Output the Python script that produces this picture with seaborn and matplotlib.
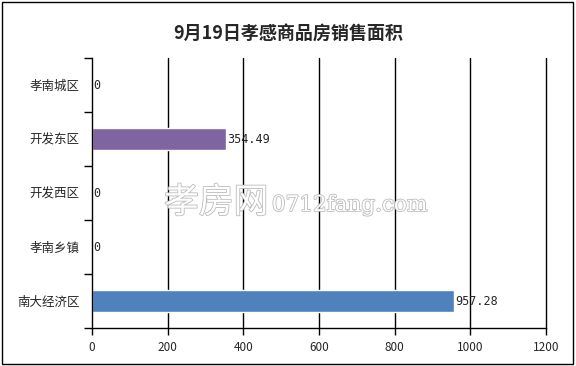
import pandas as pd
import matplotlib.pyplot as plt
import matplotlib.patheffects as pe
from matplotlib.patches import Rectangle
import seaborn as sns

# Data
districts = ['孝南城区', '开发东区', '开发西区', '孝南乡镇', '南大经济区']
areas = [0, 354.49, 0, 0, 957.28]
bar_colors = ['#4F81BD', '#8064A2', '#4F81BD', '#4F81BD', '#4F81BD']
x_ticks = [0, 200, 400, 600, 800, 1000, 1200]

df = pd.DataFrame({'district': districts, 'area': areas})

sns.set_style('white')
plt.rcParams['font.family'] = ['Noto Sans CJK SC', 'DejaVu Sans']

fig = plt.figure(figsize=(5.76, 3.66), dpi=100)
ax = fig.add_axes([0.1597, 0.1038, 0.7882, 0.7377])

sns.barplot(data=df, x='area', y='district', hue='district',
            palette=dict(zip(districts, bar_colors)), legend=False,
            width=0.39, saturation=1, ax=ax)

ax.set_xlim(0, 1200)
ax.set_ylim(len(districts) - 0.5, -0.5)
ax.set_xticks(x_ticks)
ax.set_xticklabels([str(t) for t in x_ticks], fontsize=8.5)
ax.set_xlabel('')
ax.set_ylabel('')

# category labels at centers, tick marks at boundaries
ax.set_yticks(range(len(districts)))
ax.set_yticklabels(districts, fontsize=9)
ax.set_yticks([i - 0.5 for i in range(len(districts) + 1)], minor=True)
ax.tick_params(axis='y', which='major', left=True, length=0, pad=9)
ax.tick_params(axis='y', which='minor', left=True, length=6, width=1,
               color='black', direction='out')
ax.tick_params(axis='x', which='major', bottom=True, length=5, width=1,
               color='black', direction='out', pad=4)

ax.grid(axis='x', color='black', linewidth=1)
for i, t in enumerate(ax.get_xgridlines()):
    t.set_clip_on(False)
    if i == 0:
        t.set_visible(False)
ax.set_axisbelow(True)
for s in ['top', 'right']:
    ax.spines[s].set_visible(False)
for s in ['left', 'bottom']:
    ax.spines[s].set_color('black')
    ax.spines[s].set_linewidth(1)

# value labels
for i, v in enumerate(areas):
    ax.text(v + 3, i, f'{v:g}' if v == 0 else f'{v:.2f}', va='center', ha='left',
            fontsize=8.5, family='DejaVu Sans Mono')

# watermark
fig.text(0.466, 0.445, '孝房网', fontsize=25, color='white', ha='right', va='center',
         family=['Noto Sans CJK SC'],
         path_effects=[pe.withStroke(linewidth=1.2, foreground='#bbbbbb')], zorder=5)
fig.text(0.472, 0.44, '0712fang.com', fontsize=15.5, color='white', ha='left', va='center',
         family=['DejaVu Serif'],
         path_effects=[pe.withStroke(linewidth=1.2, foreground='#bbbbbb')], zorder=5)

fig.suptitle('9月19日孝感商品房销售面积', y=0.935, fontsize=13, fontweight='bold')

fig.patches.append(Rectangle((0.004, 0.006), 0.99, 0.988, transform=fig.transFigure,
                             fill=False, edgecolor='black', linewidth=1))

fig.savefig('out.png', dpi=100)
